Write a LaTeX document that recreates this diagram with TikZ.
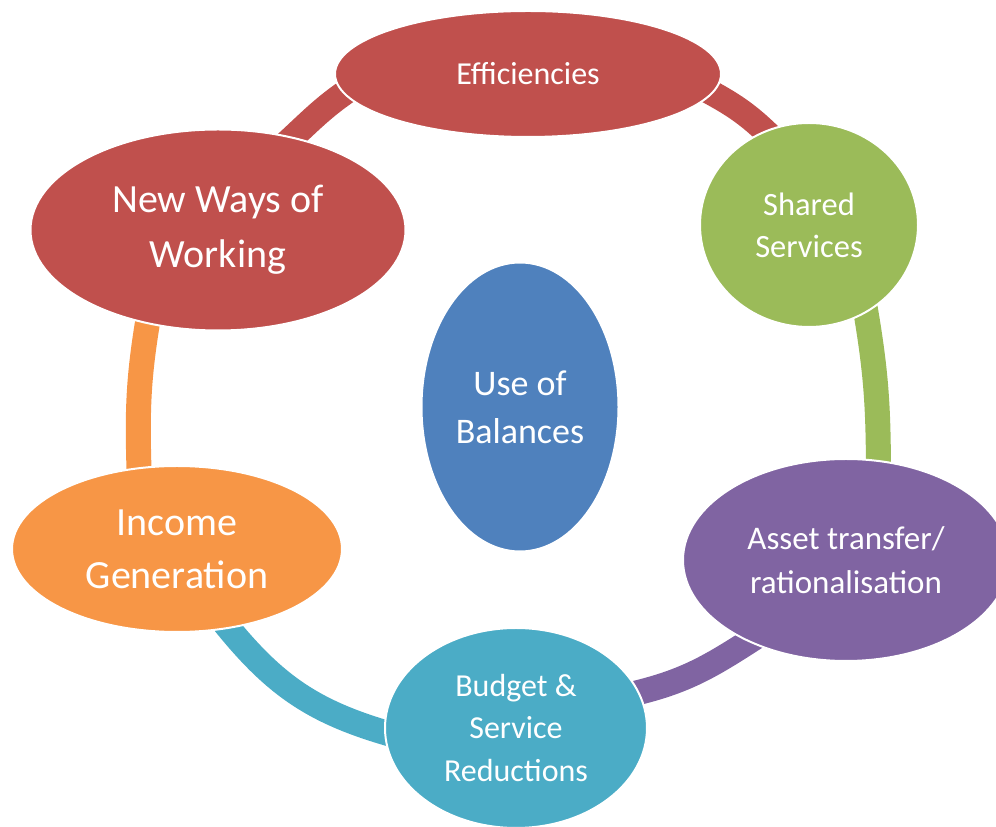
\documentclass[tikz,border=0pt]{standalone}
\usepackage{fontspec}
\setmainfont{Carlito}
\usetikzlibrary{shapes,backgrounds}
\definecolor{effred}{HTML}{C0504D}
\definecolor{sharedgreen}{HTML}{9BBB59}
\definecolor{assetpurple}{HTML}{8064A2}
\definecolor{budgetteal}{HTML}{4BACC6}
\definecolor{incomeorange}{HTML}{F79646}
\definecolor{balanceblue}{HTML}{4F81BD}
\tikzstyle{blob}=[ellipse,
	draw=white,
	line width=2pt,
	inner sep=0pt,
	text=white,
	align=center]
\tikzstyle{ring}=[line width=25pt,
	shorten <=-20pt,
	shorten >=-20pt]

\begin{document}
\begin{tikzpicture}[x=1pt,y=1pt]
	\useasboundingbox (0,0) rectangle (996,827);

	\node (efficiencies) [blob, fill=effred, minimum width=386pt, minimum height=126pt, font=\fontsize{32}{42}\selectfont] at (528,753) {Efficiencies};
	\node (shared) [blob, fill=sharedgreen, minimum width=218pt, minimum height=204pt, font=\fontsize{32.5}{42}\selectfont] at (809,602) {Shared\\Services};
	\node (asset) [blob, fill=assetpurple, minimum width=326pt, minimum height=202pt, font=\fontsize{33}{44}\selectfont] at (846,267) {Asset transfer/\\rationalisation};
	\node (budget) [blob, fill=budgetteal, minimum width=262pt, minimum height=200pt, font=\fontsize{32}{42.5}\selectfont] at (516,99) {Budget \&\\Service\\Reductions};
	\node (income) [blob, fill=incomeorange, minimum width=330pt, minimum height=166pt, font=\fontsize{40}{53}\selectfont] at (177,278) {Income\\Generation};
	\node (newways) [blob, fill=effred, minimum width=375pt, minimum height=201pt, font=\fontsize{40}{55}\selectfont] at (218,597) {New Ways of\\Working};
	\node (balances) [blob, fill=balanceblue, minimum width=197pt, minimum height=289pt, font=\fontsize{36}{48}\selectfont] at (520,420) {Use of\\Balances};

	\begin{scope}[on background layer]
		\draw[ring, draw=effred] (efficiencies.-6) to[out=-28,in=135] (shared.115);
		\draw[ring, draw=sharedgreen] (shared.-57) to[out=-80,in=90] (asset.72);
		\draw[ring, draw=assetpurple] (asset.220) to[out=213,in=12] (budget.16);
		\draw[ring, draw=budgetteal] (budget.182) to[out=165,in=-52] (income.-57);
		\draw[ring, draw=incomeorange] (income.115) to[out=92,in=-100] (newways.233);
		\draw[ring, draw=effred] (newways.51) to[out=42,in=-147] (efficiencies.186);
	\end{scope}
\end{tikzpicture}
\end{document}
